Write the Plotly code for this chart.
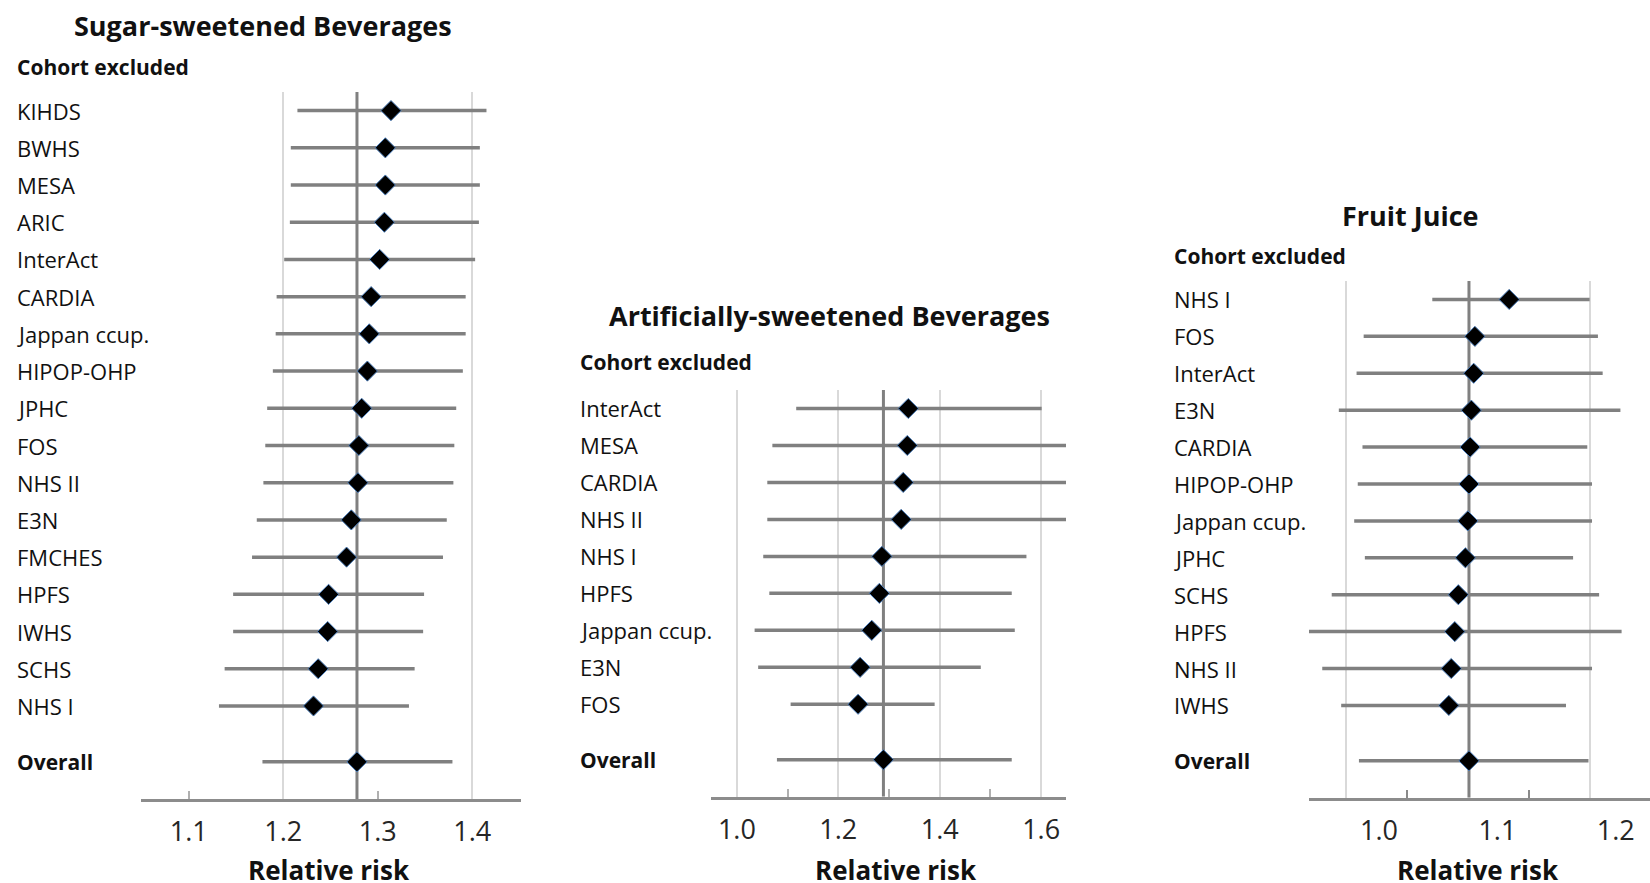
import plotly.graph_objects as go

# ---------------- data: leave-one-cohort-out relative risks ----------------
# Sugar-sweetened beverages
ssb_cohorts = ["KIHDS", "BWHS", "MESA", "ARIC", "InterAct", "CARDIA", "Jappan ccup.",
               "HIPOP-OHP", "JPHC", "FOS", "NHS II", "E3N", "FMCHES", "HPFS", "IWHS",
               "SCHS", "NHS I"]
ssb_rr = [1.314, 1.308, 1.308, 1.307, 1.302, 1.293, 1.291, 1.289, 1.283, 1.280, 1.279,
          1.272, 1.267, 1.248, 1.247, 1.237, 1.232]
ssb_lo = [1.215, 1.208, 1.208, 1.207, 1.201, 1.193, 1.192, 1.189, 1.183, 1.181, 1.179,
          1.172, 1.167, 1.147, 1.147, 1.138, 1.132]
ssb_hi = [1.415, 1.408, 1.408, 1.407, 1.403, 1.393, 1.393, 1.390, 1.383, 1.381, 1.380,
          1.373, 1.369, 1.349, 1.348, 1.339, 1.333]
ssb_overall = [1.278, 1.178, 1.379]   # estimate, lower, upper
ssb_ticks = [1.1, 1.2, 1.3, 1.4]

# Artificially-sweetened beverages
asb_cohorts = ["InterAct", "MESA", "CARDIA", "NHS II", "NHS I", "HPFS", "Jappan ccup.",
               "E3N", "FOS"]
asb_rr = [1.338, 1.336, 1.328, 1.324, 1.286, 1.281, 1.266, 1.243, 1.239]
asb_lo = [1.117, 1.070, 1.060, 1.060, 1.052, 1.064, 1.035, 1.042, 1.106]
asb_hi = [1.601, 1.670, 1.665, 1.665, 1.571, 1.542, 1.548, 1.481, 1.390]
asb_overall = [1.289, 1.079, 1.542]
asb_ticks = [1.0, 1.2, 1.4, 1.6]

# Fruit juice
fj_cohorts = ["NHS I", "FOS", "InterAct", "E3N", "CARDIA", "HIPOP-OHP", "Jappan ccup.",
              "JPHC", "SCHS", "HPFS", "NHS II", "IWHS"]
fj_rr = [1.110, 1.081, 1.080, 1.078, 1.077, 1.076, 1.075, 1.073, 1.067, 1.064, 1.061, 1.059]
fj_lo = [1.045, 0.987, 0.981, 0.966, 0.986, 0.982, 0.979, 0.988, 0.960, 0.940, 0.952, 0.968]
fj_hi = [1.178, 1.185, 1.189, 1.204, 1.176, 1.180, 1.180, 1.164, 1.186, 1.205, 1.180, 1.158]
fj_overall = [1.076, 0.983, 1.177]
fj_ticks = [1.0, 1.1, 1.2]

# ---------------- styling ----------------
W, H = 1650, 883
FONT = "Open Sans"
TXT = "#111111"
CI_COLOR = "#808080"
GRID_COLOR = "#d9d9d9"
AXIS_COLOR = "#8c8c8c"
TICK_COLOR = "#b0b0b0"


def px(xp):
    return xp / W


def py(yp):
    return 1 - yp / H


panels = [
    dict(title="Sugar-sweetened Beverages", cohorts=ssb_cohorts, rr=ssb_rr, lo=ssb_lo,
         hi=ssb_hi, overall=ssb_overall, ticks=ssb_ticks,
         xdom=(140.5, 520.5), ydom=(92, 799), xrange=[1.049, 1.451],
         label_x=14.5, title_x=262.7, title_y=26, head_y=67.5, axtitle_x=328.5),
    dict(title="Artificially-sweetened Beverages", cohorts=asb_cohorts, rr=asb_rr, lo=asb_lo,
         hi=asb_hi, overall=asb_overall, ticks=asb_ticks,
         xdom=(711, 1066), ydom=(390, 796.7), xrange=[0.949, 1.649],
         label_x=578, title_x=829.5, title_y=315, head_y=362, axtitle_x=896),
    dict(title="Fruit Juice", cohorts=fj_cohorts, rr=fj_rr, lo=fj_lo,
         hi=fj_hi, overall=fj_overall, ticks=fj_ticks,
         xdom=(1309, 1650), ydom=(281, 797.7), xrange=[0.9408, 1.229],
         label_x=1172, title_x=1410, title_y=216, head_y=256.5, axtitle_x=1478),
]

fig = go.Figure()
annotations = []
layout = {}

for k, p in enumerate(panels, start=1):
    xa = "x" if k == 1 else f"x{k}"
    ya = "y" if k == 1 else f"y{k}"
    n = len(p["cohorts"])
    rows = list(range(n))
    overall_row = n + 0.5
    y_top, y_bottom = -0.5, n + 1.5

    # reference line at the pooled estimate, spanning the panel
    fig.add_trace(go.Scatter(x=[p["overall"][0], p["overall"][0]], y=[y_top, y_bottom],
                             mode="lines", xaxis=xa, yaxis=ya,
                             line=dict(color=CI_COLOR, width=3),
                             hoverinfo="skip", showlegend=False))

    # confidence-interval whiskers
    cx, cy = [], []
    for r, lo, hi in zip(rows + [overall_row], p["lo"] + [p["overall"][1]],
                         p["hi"] + [p["overall"][2]]):
        cx += [lo, hi, None]
        cy += [r, r, None]
    fig.add_trace(go.Scatter(x=cx, y=cy, mode="lines", xaxis=xa, yaxis=ya,
                             line=dict(color=CI_COLOR, width=3.5),
                             hoverinfo="skip", showlegend=False))
    # point estimates
    fig.add_trace(go.Scatter(x=p["rr"] + [p["overall"][0]], y=rows + [overall_row],
                             mode="markers", xaxis=xa, yaxis=ya,
                             marker=dict(symbol="diamond", size=15.5, color="black",
                                         line=dict(color="#4f81bd", width=1)),
                             showlegend=False))

    layout["xaxis" if k == 1 else f"xaxis{k}"] = dict(
        domain=[px(p["xdom"][0]), px(p["xdom"][1])], range=p["xrange"], anchor=ya,
        tickmode="array", tickvals=p["ticks"], ticktext=[f"{t:.1f}" for t in p["ticks"]],
        showgrid=False, zeroline=False, showline=True, linecolor=AXIS_COLOR, linewidth=3,
        ticks="", ticklabelstandoff=7,
        tickfont=dict(family=FONT, size=27, color="#262626"))
    layout["yaxis" if k == 1 else f"yaxis{k}"] = dict(
        domain=[py(p["ydom"][1]), py(p["ydom"][0])], range=[y_bottom, y_top],
        anchor=xa, visible=False, fixedrange=True)

    # row labels
    for r, name in zip(rows, p["cohorts"]):
        annotations.append(dict(text=name, x=px(p["label_x"]), xref="paper", xanchor="left",
                                y=r, yref=ya, yanchor="middle", showarrow=False,
                                font=dict(family=FONT, size=22, color=TXT)))
    annotations.append(dict(text="<b>Overall</b>", x=px(p["label_x"]), xref="paper",
                            xanchor="left", y=overall_row, yref=ya, yanchor="middle",
                            showarrow=False, font=dict(family=FONT, size=21, color=TXT)))
    # headings
    annotations.append(dict(text=f"<b>{p['title']}</b>", x=px(p["title_x"]), xref="paper",
                            xanchor="center", y=py(p["title_y"]), yref="paper",
                            yanchor="middle", showarrow=False,
                            font=dict(family=FONT, size=27, color=TXT)))
    annotations.append(dict(text="<b>Cohort excluded</b>", x=px(p["label_x"]), xref="paper",
                            xanchor="left", y=py(p["head_y"]), yref="paper",
                            yanchor="middle", showarrow=False,
                            font=dict(family=FONT, size=21, color=TXT)))
    annotations.append(dict(text="<b>Relative risk</b>", x=px(p["axtitle_x"]), xref="paper",
                            xanchor="center", y=py(870), yref="paper", yanchor="middle",
                            showarrow=False, font=dict(family=FONT, size=26, color=TXT)))

# grid and tick-mark axes laid over each panel
layout["xaxis4"] = dict(overlaying="x", anchor="y", range=panels[0]["xrange"],
                        tickmode="array", tickvals=[1.2, 1.4], showgrid=True,
                        gridcolor=GRID_COLOR, gridwidth=1.5, showticklabels=False,
                        ticks="", zeroline=False, showline=False,
                        minor=dict(tickmode="array", tickvals=[1.1, 1.3], ticks="inside",
                                   ticklen=8, tickcolor=TICK_COLOR, tickwidth=1.5,
                                   showgrid=False))
layout["xaxis5"] = dict(overlaying="x2", anchor="y2", range=panels[1]["xrange"],
                        tickmode="array", tickvals=[1.0, 1.2, 1.4, 1.6], showgrid=True,
                        gridcolor=GRID_COLOR, gridwidth=1.5, showticklabels=False,
                        ticks="", zeroline=False, showline=False,
                        minor=dict(tickmode="array", tickvals=[1.1, 1.3, 1.5],
                                   ticks="inside", ticklen=8, tickcolor=TICK_COLOR,
                                   tickwidth=1.5, showgrid=False))
layout["xaxis6"] = dict(overlaying="x3", anchor="y3", range=[0.970, 1.249],
                        tickmode="array", tickvals=[1.0, 1.2], showgrid=True,
                        gridcolor=GRID_COLOR, gridwidth=1.5, showticklabels=False,
                        ticks="", zeroline=False, showline=False,
                        minor=dict(tickmode="array", tickvals=[1.05, 1.15],
                                   ticks="inside", ticklen=8, tickcolor="#8a8a8a",
                                   tickwidth=1.5, showgrid=False))
for xa, ya in (("x4", "y"), ("x5", "y2"), ("x6", "y3")):
    fig.add_trace(go.Scatter(x=[None], y=[None], xaxis=xa, yaxis=ya, mode="markers",
                             hoverinfo="skip", showlegend=False))

fig.update_layout(width=W, height=H, margin=dict(l=0, r=0, t=0, b=0),
                  paper_bgcolor="white", plot_bgcolor="white",
                  annotations=annotations, **layout)

fig.write_html("out.html")
